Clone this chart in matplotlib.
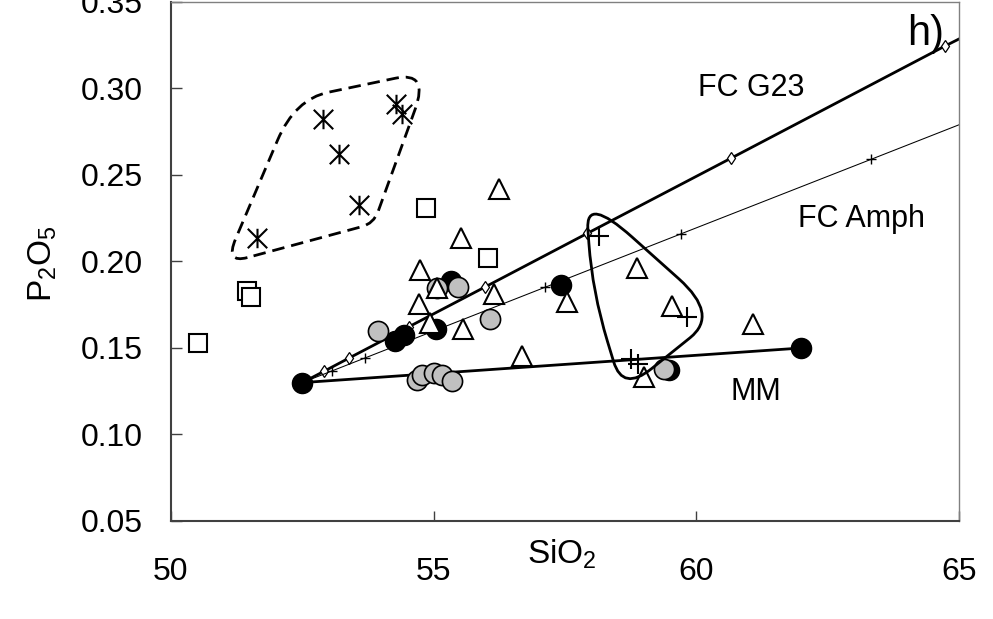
import numpy as np
import matplotlib
matplotlib.use('Agg')
import matplotlib.pyplot as plt
from matplotlib.path import Path
from matplotlib.patches import PathPatch

plt.rcParams['font.family'] = ['Liberation Sans', 'DejaVu Sans']
plt.rcParams['mathtext.fontset'] = 'custom'
plt.rcParams['mathtext.rm'] = 'Liberation Sans'
plt.rcParams['mathtext.it'] = 'Liberation Sans:italic'

# --- data (SiO2, P2O5) ---
square_x = [51.45, 51.53, 50.52, 54.85, 56.03]
square_y = [0.1830, 0.1797, 0.1527, 0.2309, 0.2019]

star_x = [51.63, 52.90, 53.20, 53.57, 54.29, 54.40]
star_y = [0.2135, 0.2826, 0.2621, 0.2324, 0.2913, 0.2853]

black_x = [55.33, 57.42, 55.04, 54.26, 54.44, 59.48]
black_y = [0.1890, 0.1867, 0.1612, 0.1542, 0.1577, 0.1375]

grey_x = [53.94, 55.06, 55.46, 56.07, 54.68, 54.78, 55.01, 55.16, 55.35, 59.39]
grey_y = [0.1600, 0.1849, 0.1855, 0.1670, 0.1317, 0.1346, 0.1357, 0.1346, 0.1311, 0.1380]

tri_x = [56.24, 55.52, 54.74, 55.06, 56.15, 54.72, 54.93, 55.56, 57.54, 56.68,
         58.87, 59.54, 59.00, 61.08]
tri_y = [0.2417, 0.2133, 0.1948, 0.1844, 0.1815, 0.1757, 0.1647, 0.1612, 0.1768, 0.1456,
         0.1965, 0.1745, 0.1334, 0.1641]

plus_x = [58.15, 59.82, 58.76, 58.89]
plus_y = [0.2145, 0.1681, 0.1438, 0.1409]

# model curves
mm_x = [52.5, 62.0]
mm_y = [0.130, 0.150]

g23_x = [52.5, 52.91, 53.39, 54.53, 55.98, 57.92, 60.66, 64.73, 65.3]
g23_y = [0.130, 0.1365, 0.1442, 0.1623, 0.1853, 0.2162, 0.2597, 0.3245, 0.3332]

amph_x = [52.5, 53.06, 53.69, 57.12, 59.71, 63.33, 65.3]
amph_y = [0.130, 0.1367, 0.1442, 0.1851, 0.2160, 0.2591, 0.2826]

# group outlines (corners of rounded shapes) and rounding amount per corner
dash_corners = [(51.03, 0.1988), (52.36, 0.2938), (54.91, 0.3100), (53.86, 0.2220)]
dash_round = [0.15, 0.25, 0.25, 0.08]
solid_corners = [(57.89, 0.2382), (60.43, 0.1693), (58.60, 0.1247), (58.02, 0.1826)]
solid_round = [0.35, 0.3, 0.3, 0.5]

y_ticks = [0.05, 0.10, 0.15, 0.20, 0.25, 0.30, 0.35]
x_ticks = [50, 55, 60, 65]


def rounded_path(corners, fracs):
    v = np.array(corners, float)
    n = len(v)
    pts, codes = [], []
    for i in range(n):
        cur = v[i]
        pin = cur + fracs[i]*(v[i-1]-cur)
        pout = cur + fracs[i]*(v[(i+1) % n]-cur)
        pts.append(pin)
        codes.append(Path.MOVETO if i == 0 else Path.LINETO)
        pts += [cur, pout]
        codes += [Path.CURVE3, Path.CURVE3]
    pts.append(pts[0])
    codes.append(Path.LINETO)
    return Path(pts, codes)


asterisk = Path([(0, -1), (0, 1), (-1, -1), (1, 1), (-1, 1), (1, -1)],
                [Path.MOVETO, Path.LINETO]*3)

fig = plt.figure(figsize=(9.93, 6.19), dpi=100)
ax = fig.add_axes([171/993, 1-521/619, 788/993, 519/619])

# model lines
ax.plot(g23_x, g23_y, color='black', lw=2, marker='d', ms=6, mfc='white',
        mec='black', mew=0.9, markevery=list(range(1, len(g23_x)-1)), zorder=2)
ax.plot(amph_x, amph_y, color='black', lw=0.75, marker='+', ms=7, mew=1,
        markevery=list(range(1, len(amph_x)-1)), zorder=2)
ax.plot(mm_x, mm_y, color='black', lw=2, zorder=2)

# samples
ax.plot(square_x, square_y, ls='none', marker='s', ms=12.5, mfc='white', mec='black', mew=1.5, zorder=3)
ax.plot(black_x, black_y, ls='none', marker='o', ms=14.5, mfc='black', mec='black', mew=1, zorder=3)
ax.plot(grey_x, grey_y, ls='none', marker='o', ms=14.5, mfc='#c0c0c0', mec='black', mew=1.2, zorder=3)
ax.plot(tri_x, tri_y, ls='none', marker='^', ms=15, mfc='white', mec='black', mew=1.5, zorder=3)
ax.plot(star_x, star_y, ls='none', marker=asterisk, ms=14, mec='black', mew=1.5, zorder=3)
ax.plot(plus_x, plus_y, ls='none', marker='+', ms=15, mec='black', mew=1.5, zorder=3)
ax.plot(mm_x, mm_y, ls='none', marker='o', ms=14.5, mfc='black', mec='black', zorder=3)

# group outlines
ax.add_patch(PathPatch(rounded_path(dash_corners, dash_round), fill=False, lw=2,
                       ls=(0, (4.5, 2.5)), zorder=4))
ax.add_patch(PathPatch(rounded_path(solid_corners, solid_round), fill=False, lw=2, zorder=4))

ax.text(61.05, 0.300, 'FC G23', fontsize=22, ha='center', va='center')
ax.text(63.15, 0.2243, 'FC Amph', fontsize=22, ha='center', va='center')
ax.text(61.14, 0.1247, 'MM', fontsize=22, ha='center', va='center')
ax.text(64.37, 0.3315, 'h)', fontsize=30, ha='center', va='center')

ax.set_xlim(50, 65)
ax.set_ylim(0.05, 0.35)
ax.set_xticks(x_ticks)
ax.set_yticks(y_ticks)
ax.set_yticklabels(['%.2f' % t for t in y_ticks])
ax.tick_params(axis='y', direction='in', length=8, width=1, color='#404040',
               labelsize=23, pad=20)
ax.tick_params(axis='x', direction='in', length=7, width=1, color='#404040',
               labelsize=23, pad=26)

for side in ['left', 'bottom']:
    ax.spines[side].set_color('#404040')
    ax.spines[side].set_linewidth(1.5)
for side in ['top', 'right']:
    ax.spines[side].set_color('#808080')
    ax.spines[side].set_linewidth(1)

fig.text(527/993, 1-554/619, r'SiO$_2$', fontsize=24, ha='left', va='center')
fig.text(43/993, 1-264/619, r'P$_2$O$_5$', fontsize=24, ha='center', va='center', rotation=90)

fig.savefig('out.png', dpi=100)
